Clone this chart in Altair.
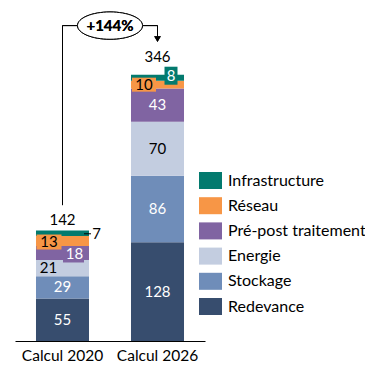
import json
import altair as alt
import pandas as pd

# ---------------- data ----------------
categories = ["Calcul 2020", "Calcul 2026"]
components = ["Redevance", "Stockage", "Energie", "Pré-post traitement", "Réseau", "Infrastructure"]
values_2020 = [55, 29, 21, 18, 13, 7]
values_2026 = [128, 86, 70, 43, 10, 8]
totals = [142, 346]
growth_label = "+144%"
colors = ["#374D6E", "#6F8DB9", "#C3CDE0", "#8064A2", "#F79646", "#037A6E"]

FONT = "Lato"

rows = []
for cat, vals in zip(categories, [values_2020, values_2026]):
    for i, (comp, v) in enumerate(zip(components, vals)):
        rows.append({"cat": cat, "comp": comp, "v": v, "ord": i})
df = pd.DataFrame(rows)
tot_df = pd.DataFrame({"cat": categories, "total": totals})

YDOM = [0, 430]
yscale = alt.Scale(domain=YDOM)
xscale = alt.Scale(domain=categories, paddingInner=0.442, paddingOuter=0.221)

X = alt.X("cat:N", sort=categories, scale=xscale, title=None,
          axis=alt.Axis(labelAngle=0, ticks=False, domainColor="black", domainWidth=1,
                        labelFont=FONT, labelFontSize=15.5, labelColor="black",
                        labelPadding=7, title=None))

stacked = alt.Chart(df).transform_stack(
    stack="v", groupby=["cat"], as_=["y0", "y1"],
    sort=[alt.SortField("ord", order="ascending")]
).transform_calculate(mid="(datum.y0 + datum.y1) / 2")

legend_order = components[::-1]
legend_colors = colors[::-1]

bars = stacked.mark_bar().encode(
    x=X,
    y=alt.Y("y0:Q", scale=yscale, axis=None),
    y2="y1:Q",
    color=alt.Color("comp:N", scale=alt.Scale(domain=legend_order, range=legend_colors),
                    legend=alt.Legend(title=None, orient="none", legendX=184, legendY=160,
                                      symbolType="M-1,-0.74 L1,-0.74 L1,0.74 L-1,0.74 Z",
                                      symbolSize=529, symbolStrokeWidth=0,
                                      labelFont=FONT, labelFontSize=16, labelColor="black",
                                      labelOffset=6, rowPadding=4.2, padding=0,
                                      symbolOffset=0)),
)


def sel(cat, comps):
    return f"datum.cat == '{cat}' && indexof({json.dumps(comps)}, datum.comp) >= 0"


def label(cat, comps, dx=0, dy=0, color="white"):
    return stacked.transform_filter(sel(cat, comps)).mark_text(
        dx=dx, dy=dy, color=color, font=FONT, fontSize=15, baseline="middle"
    ).encode(x=X, y=alt.Y("mid:Q", scale=yscale, axis=None), text="v:Q")


def box(cat, comp, w, h, dx, dy, color):
    r = h / w
    path = f"M-1,{-r:.3f} L1,{-r:.3f} L1,{r:.3f} L-1,{r:.3f} Z"
    return stacked.transform_filter(sel(cat, [comp])).mark_point(
        shape=path, size=w * w, filled=True, opacity=1, color=color,
        xOffset=dx, yOffset=dy, strokeWidth=0
    ).encode(x=X, y=alt.Y("mid:Q", scale=yscale, axis=None))


c20, c26 = categories
layers = [bars,
          box(c20, "Réseau", 25, 15, -13.5, 1, colors[4]),
          box(c20, "Pré-post traitement", 21, 16, 11, 1.5, colors[3]),
          box(c26, "Réseau", 24, 14, -13.5, 0, colors[4]),
          box(c26, "Infrastructure", 13, 18, 13.5, -2, colors[5]),
          label(c20, ["Redevance", "Stockage"]),
          label(c26, ["Redevance", "Stockage", "Pré-post traitement"]),
          label(c26, ["Energie"], color="black"),
          label(c20, ["Energie"], dx=-14, color="black"),
          label(c20, ["Pré-post traitement"], dx=12, dy=1, color="white"),
          label(c20, ["Réseau"], dx=-13.5, dy=1, color="black"),
          label(c26, ["Réseau"], dx=-13.5, dy=0, color="black"),
          label(c26, ["Infrastructure"], dx=13.5, dy=-2, color="white"),
          label(c20, ["Infrastructure"], dx=34, dy=0.5, color="black"),
          # leader line for small segment
          stacked.transform_filter(sel(c20, ["Infrastructure"])).mark_point(
              shape="M-1,0 L1,0", size=49, filled=False, color="black", strokeWidth=1,
              xOffset=25, yOffset=0.5, opacity=1
          ).encode(x=X, y=alt.Y("mid:Q", scale=yscale, axis=None)),
          ]

# totals
for cat, dy in [(c20, -11), (c26, -17)]:
    layers.append(alt.Chart(tot_df).transform_filter(f"datum.cat == '{cat}'").mark_text(
        dy=dy, color="black", font=FONT, fontSize=15, baseline="middle"
    ).encode(x=X, y=alt.Y("total:Q", scale=yscale, axis=None), text="total:Q"))

# growth annotation
ANN_Y = 408.5
XD1 = alt.X(datum=c20, type="nominal", scale=xscale, title=None)
XD2 = alt.X(datum=c26, type="nominal", scale=xscale, title=None)
ann_base = alt.Chart(tot_df)
layers += [
    ann_base.mark_rule(color="black", strokeWidth=1).encode(
        x=XD1, y=alt.Y(datum=176, scale=yscale, axis=None), y2=alt.Y2(datum=ANN_Y)),
    ann_base.mark_rule(color="black", strokeWidth=1).encode(
        x=XD1, x2=alt.X2(datum=c26), y=alt.Y(datum=ANN_Y, scale=yscale, axis=None)),
    ann_base.mark_rule(color="black", strokeWidth=1).encode(
        x=XD2, y=alt.Y(datum=ANN_Y, scale=yscale, axis=None), y2=alt.Y2(datum=393)),
    ann_base.mark_point(shape="triangle-down", size=45, filled=True, color="black", opacity=1).encode(
        x=XD2, y=alt.Y(datum=391, scale=yscale, axis=None)),
    ann_base.mark_point(shape="M-1,0 A1,0.42 0 1,1 1,0 A1,0.42 0 1,1 -1,0 Z", size=65 * 65,
                        filled=True, fill="white", stroke="black", strokeWidth=1, opacity=1,
                        xOffset=47.5).encode(
        x=XD1, y=alt.Y(datum=ANN_Y, scale=yscale, axis=None)),
    ann_base.mark_text(text=growth_label, font=FONT, fontSize=15, fontWeight="bold",
                       color="black", xOffset=47.5, baseline="middle").encode(
        x=XD1, y=alt.Y(datum=ANN_Y, scale=yscale, axis=None)),
]

chart = alt.layer(*layers).properties(
    width=190, height=332,
    autosize=alt.AutoSizeParams(type="none"),
    padding={"left": 7, "top": 1, "right": 160, "bottom": 28},
).configure_view(stroke=None)

chart.save("out.html", embed_options={"renderer": "svg", "actions": False})
